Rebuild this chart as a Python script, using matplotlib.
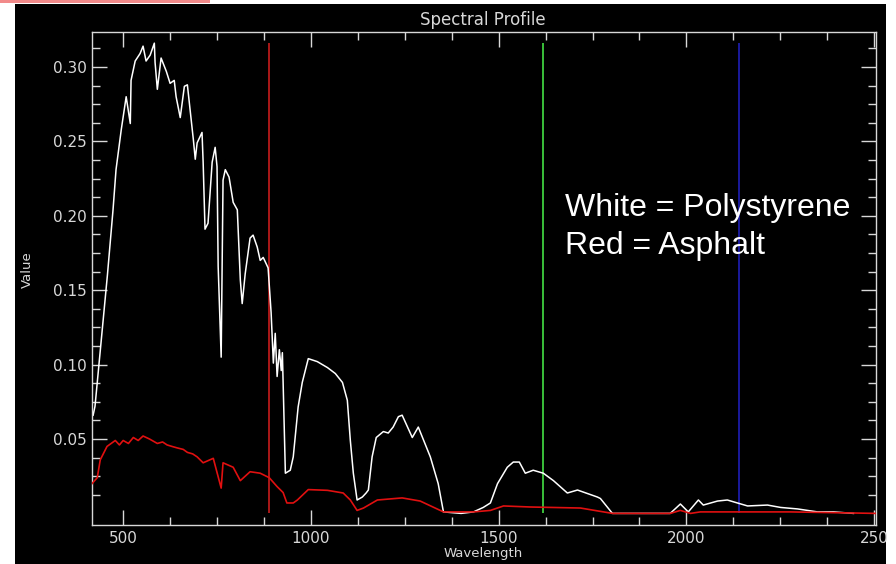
import numpy as np
import matplotlib.pyplot as plt
from matplotlib.patches import Rectangle

# Polystyrene spectrum (white)
white_wl = [420, 425, 440, 458, 473, 481, 495, 508, 519, 521, 532, 545, 553, 561, 572, 583, 585,
            591, 601, 615, 625, 636, 641, 652, 663, 671, 687, 692, 697, 710, 713, 718, 726, 737,
            745, 750, 753, 761, 766, 772, 782, 793, 804, 812, 817, 825, 838, 846, 857, 865, 873,
            886, 894, 900, 905, 910, 916, 921, 924, 926, 932, 945, 953, 966, 977, 993, 1017, 1044,
            1065, 1084, 1097, 1105, 1113, 1123, 1137, 1147, 1153, 1163, 1174, 1193, 1206, 1219,
            1233, 1243, 1270, 1286, 1318, 1339, 1353, 1400, 1433, 1459, 1478, 1497, 1523, 1539,
            1555, 1571, 1592, 1619, 1646, 1683, 1710, 1763, 1771, 1803, 1957, 1984, 2005, 2032,
            2045, 2083, 2109, 2136, 2163, 2216, 2251, 2296, 2349, 2392, 2445]
white_val = [0.066, 0.072, 0.112, 0.160, 0.204, 0.231, 0.258, 0.280, 0.262, 0.291, 0.304, 0.309,
             0.314, 0.304, 0.308, 0.316, 0.303, 0.285, 0.306, 0.297, 0.289, 0.291, 0.280, 0.266,
             0.287, 0.288, 0.251, 0.238, 0.249, 0.256, 0.236, 0.191, 0.195, 0.236, 0.246, 0.233,
             0.166, 0.105, 0.224, 0.231, 0.226, 0.209, 0.204, 0.157, 0.141, 0.161, 0.185, 0.187,
             0.179, 0.170, 0.172, 0.165, 0.135, 0.101, 0.121, 0.092, 0.110, 0.096, 0.108, 0.088,
             0.027, 0.029, 0.038, 0.0715, 0.088, 0.104, 0.102, 0.098, 0.094, 0.088, 0.076, 0.049,
             0.027, 0.009, 0.011, 0.0137, 0.0157, 0.038, 0.051, 0.055, 0.054, 0.058, 0.065, 0.066,
             0.051, 0.058, 0.038, 0.020, 0.001, 0.0, 0.001, 0.004, 0.007, 0.020, 0.031, 0.0345,
             0.0345, 0.027, 0.029, 0.027, 0.022, 0.0137, 0.0157, 0.011, 0.010, 0.0, 0.0, 0.0063,
             0.001, 0.009, 0.0056, 0.0083, 0.009, 0.007, 0.005, 0.0056, 0.004, 0.003, 0.001,
             0.001, 0.0]

# Asphalt spectrum (red)
red_wl = [417, 431, 439, 457, 479, 490, 500, 514, 527, 540, 553, 570, 591, 605, 617, 630, 644,
          660, 671, 685, 697, 713, 740, 761, 766, 793, 812, 838, 865, 889, 910, 926, 936, 953,
          964, 993, 1044, 1086, 1105, 1123, 1140, 1177, 1243, 1291, 1353, 1433, 1478, 1513, 1584,
          1718, 1803, 1957, 1984, 2011, 2037, 2277, 2504]
red_val = [0.020, 0.024, 0.036, 0.045, 0.049, 0.046, 0.049, 0.047, 0.051, 0.049, 0.052, 0.050,
           0.047, 0.048, 0.046, 0.045, 0.044, 0.043, 0.041, 0.040, 0.038, 0.034, 0.037, 0.017,
           0.034, 0.031, 0.022, 0.028, 0.027, 0.024, 0.018, 0.014, 0.007, 0.007, 0.009, 0.016,
           0.0155, 0.0137, 0.009, 0.002, 0.0036, 0.009, 0.0104, 0.0083, 0.001, 0.001, 0.002, 0.005,
           0.0043, 0.0036, 0.0, 0.0, 0.002, 0.0, 0.001, 0.001, 0.0]

# Marker lines (wavelength, colour)
marker_wl = [889, 1619, 2141]
marker_colors = ['#b81a1a', '#3fcf3f', '#1c1ca8']

fig = plt.figure(figsize=(8.96, 5.64), dpi=100, facecolor='white')

# black image area and the pink strip at the top-left
fig.patches.append(Rectangle((15/896, 0), 871/896, 1-4/564, transform=fig.transFigure,
                             facecolor='black', edgecolor='none', zorder=-10))
fig.patches.append(Rectangle((0, 1-3/564), 210/896, 3/564, transform=fig.transFigure,
                             facecolor='#f28a8a', edgecolor='none', zorder=-10))

ax = fig.add_axes([92/896, 1-525/564, 784/896, 493/564])
ax.set_facecolor('black')

fg = '#d8d8d8'
ax.vlines(marker_wl, 0, max(white_val), colors=marker_colors, linewidth=1.3, zorder=1)
ax.plot(white_wl, white_val, color='white', linewidth=1.1, zorder=2)
ax.plot(red_wl, red_val, color='#e01010', linewidth=1.2, zorder=3)

ax.set_xlim(417, 2505)
ax.set_ylim(-0.0078, 0.3235)

ax.set_xticks([500, 1000, 1500, 2000, 2500])
ax.set_xticklabels(['500', '1000', '1500', '2000', '250'])
ax.set_xticks([x for x in np.arange(500, 2501, 125) if x % 500], minor=True)
ax.set_yticks([0.05, 0.10, 0.15, 0.20, 0.25, 0.30])
ax.set_yticklabels(['0.05', '0.10', '0.15', '0.20', '0.25', '0.30'])
ax.set_yticks([y for y in np.arange(0.0125, 0.32, 0.0125) if abs(y / 0.05 - round(y / 0.05)) > 1e-6],
              minor=True)

ax.tick_params(which='both', direction='in', top=True, right=True, colors=fg, labelcolor=fg,
               labelsize=11, width=1)
ax.tick_params(which='major', length=11, pad=4)
ax.tick_params(which='minor', length=6)
ax.tick_params(axis='x', labelbottom=True, labeltop=False)
for s in ax.spines.values():
    s.set_color(fg)
    s.set_linewidth(1)

fig.text(483/896, 1-20/564, 'Spectral Profile', color=fg, fontsize=12, ha='center', va='center')
fig.text(483/896, 1-554/564, 'Wavelength', color=fg, fontsize=9.5, ha='center', va='center')
fig.text(27/896, 1-270/564, 'Value', color=fg, fontsize=9.5, ha='center', va='center', rotation=90)

ax.text(565/896, 1-208/564, 'White = Polystyrene', transform=fig.transFigure, color='white',
        fontsize=23, family='Liberation Sans', ha='left', va='center')
ax.text(565/896, 1-246/564, 'Red = Asphalt', transform=fig.transFigure, color='white',
        fontsize=23, family='Liberation Sans', ha='left', va='center')

fig.savefig('out.png', dpi=100, facecolor='white')
